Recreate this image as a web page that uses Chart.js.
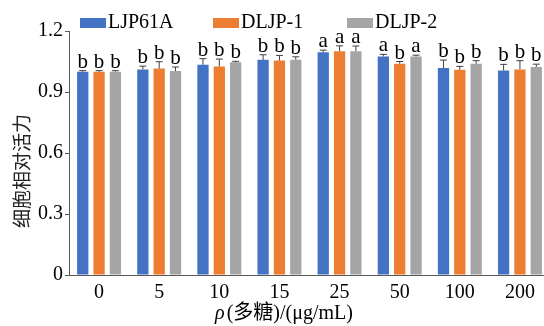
<!DOCTYPE html>
<html>
<head>
<meta charset="utf-8">
<script src="https://cdn.jsdelivr.net/npm/chart.js@4.4.1/dist/chart.umd.min.js"></script>
<style>
  html, body { margin: 0; padding: 0; background: #fff; overflow: hidden; }
  #wrap { width: 556px; height: 326px; }
</style>
</head>
<body>
<div id="wrap"><canvas id="barChart" width="556" height="326"></canvas></div>
<script>
// Cell relative viability by polysaccharide concentration
const categories = ['0', '5', '10', '15', '25', '50', '100', '200'];
const seriesNames = ['LJP61A', 'DLJP-1', 'DLJP-2'];
const seriesColors = ['#4472C4', '#ED7D31', '#A5A5A5'];
const yTicks = [0, 0.3, 0.6, 0.9, 1.2];

const ljp61a = [1.000, 1.011, 1.034, 1.058, 1.096, 1.075, 1.018, 1.006];
const dljp1  = [1.000, 1.016, 1.026, 1.055, 1.101, 1.039, 1.009, 1.011];
const dljp2  = [1.000, 1.003, 1.046, 1.058, 1.101, 1.075, 1.039, 1.023];

const ljp61aErr = [0.005, 0.016, 0.030, 0.025, 0.010, 0.010, 0.039, 0.030];
const dljp1Err  = [0.005, 0.033, 0.036, 0.025, 0.026, 0.011, 0.017, 0.043];
const dljp2Err  = [0.005, 0.020, 0.005, 0.015, 0.025, 0.006, 0.015, 0.014];

const ljp61aSig = ['b', 'b', 'b', 'b', 'a', 'a', 'b', 'b'];
const dljp1Sig  = ['b', 'b', 'b', 'b', 'a', 'b', 'b', 'b'];
const dljp2Sig  = ['b', 'b', 'b', 'b', 'a', 'a', 'b', 'b'];

const errors = [ljp61aErr, dljp1Err, dljp2Err];
const letters = [ljp61aSig, dljp1Sig, dljp2Sig];

const serif = "'Liberation Serif', 'Times New Roman', serif";
const cjk = "'Noto Sans CJK SC', sans-serif";

// error bars + significance letters + legend + axis titles
const extrasPlugin = {
    id: 'extras',
    afterDatasetsDraw(chart) {
        const ctx = chart.ctx;
        const y = chart.scales.y;
        ctx.save();
        chart.data.datasets.forEach((ds, i) => {
            const meta = chart.getDatasetMeta(i);
            meta.data.forEach((bar, j) => {
                const top = y.getPixelForValue(ds.data[j] + errors[i][j]);
                ctx.strokeStyle = '#404040';
                ctx.lineWidth = 1;
                ctx.beginPath();
                ctx.moveTo(bar.x, bar.y);
                ctx.lineTo(bar.x, top);
                ctx.moveTo(bar.x - 3.5, top);
                ctx.lineTo(bar.x + 3.5, top);
                ctx.stroke();

                ctx.fillStyle = '#000';
                ctx.font = '21px ' + serif;
                ctx.textAlign = 'center';
                ctx.textBaseline = 'alphabetic';
                ctx.fillText(letters[i][j], bar.x, top - 3);
            });
        });
        ctx.restore();
    },
    afterDraw(chart) {
        const ctx = chart.ctx;
        ctx.save();
        // legend
        const legendX = [80, 213, 347];
        ctx.font = '20px ' + serif;
        ctx.textBaseline = 'middle';
        ctx.textAlign = 'left';
        seriesNames.forEach((name, i) => {
            ctx.fillStyle = seriesColors[i];
            ctx.fillRect(legendX[i], 18, 26, 10);
            ctx.fillStyle = '#000';
            ctx.fillText(name, legendX[i] + 28, 23);
        });

        // y title
        ctx.save();
        ctx.translate(22, 171);
        ctx.rotate(-Math.PI / 2);
        ctx.font = '19px ' + cjk;
        ctx.fillStyle = '#222';
        ctx.textAlign = 'center';
        ctx.textBaseline = 'middle';
        ctx.fillText('细胞相对活力', 0, 0);
        ctx.restore();

        // x title: italic rho then the rest
        const rest = '(多糖)/(μg/mL)';
        ctx.font = 'italic 20px ' + serif;
        const wRho = ctx.measureText('ρ').width;
        ctx.font = '20px ' + serif + ', ' + cjk;
        const wRest = ctx.measureText(rest).width;
        let x0 = 284 - (wRho + 2 + wRest) / 2;
        ctx.textAlign = 'left';
        ctx.textBaseline = 'middle';
        ctx.fillStyle = '#000';
        ctx.font = 'italic 20px ' + serif;
        ctx.fillText('ρ', x0, 314);
        ctx.font = '20px ' + serif + ', ' + cjk;
        ctx.fillText(rest, x0 + wRho + 2, 314);
        ctx.restore();
    }
};

function initChart() {
    const ctx = document.getElementById('barChart').getContext('2d');
    new Chart(ctx, {
        type: 'bar',
        data: {
            labels: categories,
            datasets: [
                { label: seriesNames[0], data: ljp61a, backgroundColor: seriesColors[0] },
                { label: seriesNames[1], data: dljp1, backgroundColor: seriesColors[1] },
                { label: seriesNames[2], data: dljp2, backgroundColor: seriesColors[2] }
            ]
        },
        options: {
            responsive: false,
            animation: false,
            layout: { padding: { top: 31, right: 6, left: 0, bottom: 0 } },
            datasets: {
                bar: { categoryPercentage: 0.815, barPercentage: 0.69 }
            },
            plugins: {
                legend: { display: false },
                tooltip: { enabled: false }
            },
            scales: {
                x: {
                    grid: { display: false, drawTicks: false },
                    border: { display: true, color: '#595959', width: 1 },
                    ticks: { color: '#000', padding: 6, font: { family: serif, size: 20 } },
                    afterFit(scale) { scale.height = 51; }
                },
                y: {
                    min: 0,
                    max: 1.2,
                    afterBuildTicks(scale) { scale.ticks = yTicks.map(v => ({ value: v })); },
                    grid: { drawOnChartArea: false, drawTicks: true, tickLength: 4, color: '#595959' },
                    border: { display: true, color: '#595959', width: 1 },
                    ticks: {
                        color: '#000',
                        padding: 2,
                        font: { family: serif, size: 20 },
                        callback: v => (v === 0 ? '0' : v.toFixed(1))
                    },
                    afterFit(scale) { scale.width = 69; }
                }
            }
        },
        plugins: [extrasPlugin]
    });
}

document.addEventListener('DOMContentLoaded', initChart);
</script>
</body>
</html>
